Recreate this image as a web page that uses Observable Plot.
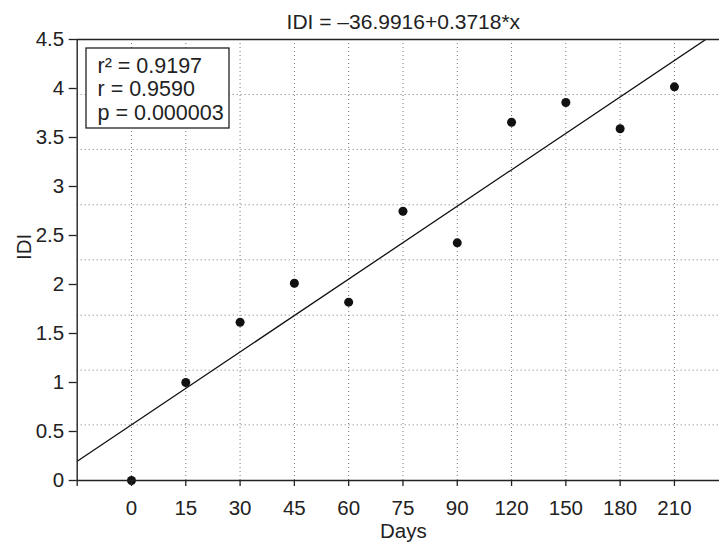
<!DOCTYPE html>
<html>
<head>
<meta charset="utf-8">
<script src="https://cdn.jsdelivr.net/npm/d3@7"></script>
<script src="https://cdn.jsdelivr.net/npm/@observablehq/plot@0.6"></script>
<style>
  html, body { margin: 0; padding: 0; background: #fff; }
  #chart { width: 719px; height: 543px; overflow: hidden; }
</style>
</head>
<body>
<div id="chart"></div>
<script>
// ---- data ----
const dayLabels = ["0", "15", "30", "45", "60", "75", "90", "120", "150", "180", "210"];
const idiValues = [0, 1.0, 1.615, 2.013, 1.82, 2.748, 2.425, 3.656, 3.857, 3.589, 4.017];
const yTicks = [0, 0.5, 1, 1.5, 2, 2.5, 3, 3.5, 4, 4.5];
const yGridValues = [0.568, 1.126, 1.687, 2.252, 2.813, 3.378, 3.939];
const fitIntercept = 0.568;   // fitted IDI at first category
const fitSlope = 0.3718;      // per category step
const titleText = "IDI = \u201336.9916+0.3718*x";
const statsLines = ["r\u00B2 = 0.9197", "r = 0.9590", "p = 0.000003"];
const xLabel = "Days";
const yLabel = "IDI";

// ---- derived tables ----
const idx = dayLabels.map((_, i) => i);
const points = idx.map(i => ({x: i, y: idiValues[i]}));
const xTickPositions = [-1, ...idx];
const xDomain = [-1, 10.83];
const fitLine = xDomain.map(x => ({x, y: fitIntercept + fitSlope * x}));

const ink = "#222";
const font = "'Liberation Sans', Arial, Helvetica, sans-serif";

const legendBox = () => {
  const r = document.createElementNS("http://www.w3.org/2000/svg", "rect");
  r.setAttribute("x", 86);
  r.setAttribute("y", 48);
  r.setAttribute("width", 143);
  r.setAttribute("height", 80);
  r.setAttribute("fill", "white");
  r.setAttribute("stroke", ink);
  r.setAttribute("stroke-width", 1.3);
  return r;
};

const chart = Plot.plot({
  width: 719,
  height: 543,
  marginLeft: 76.7,
  marginRight: 0,
  marginTop: 39,
  marginBottom: 63,
  style: {fontFamily: font, fontSize: "20px", color: ink, background: "white"},
  x: {domain: xDomain, axis: null},
  y: {domain: [0, 4.5], axis: null},
  marks: [
    // dotted grid
    Plot.ruleX(idx, {x: d => d, stroke: "#777", strokeWidth: 1, strokeDasharray: "1,3", y1: 0, y2: 4.47}),
    Plot.ruleY(yGridValues, {y: d => d, stroke: "#777", strokeWidth: 1, strokeDasharray: "1,3"}),
    // legend box (covers grid)
    legendBox,
    Plot.text([statsLines.join("\n")], {
      frameAnchor: "top-left", textAnchor: "start", lineAnchor: "top",
      dx: 20.3, dy: 16.5, fontSize: 21.5, lineHeight: 1.1, fill: ink
    }),
    // fit line
    Plot.line(fitLine, {x: "x", y: "y", stroke: "#111", strokeWidth: 1.3, clip: true}),
    // points
    Plot.dot(points, {x: "x", y: "y", r: 4.5, fill: "#111", stroke: "none"}),
    // axis frame lines
    Plot.ruleY([0], {stroke: ink, strokeWidth: 1.4}),
    Plot.ruleY([4.5], {stroke: ink, strokeWidth: 1.4}),
    Plot.ruleX([-1], {stroke: ink, strokeWidth: 1.4}),
    // axes
    Plot.axisX(xTickPositions, {
      anchor: "bottom", tickSize: 6, tickPadding: 14, fontSize: 20.5,
      tickFormat: i => (i < 0 ? "" : dayLabels[i]), label: null, stroke: ink, strokeWidth: 1.3
    }),
    Plot.axisY(yTicks, {
      anchor: "left", tickSize: 8, tickPadding: 5, fontSize: 20.5,
      tickFormat: d => String(d), label: null, stroke: ink, strokeWidth: 1.3
    }),
    // title and axis labels
    Plot.text([titleText], {frameAnchor: "top", dx: 5, dy: -17, lineAnchor: "middle", fontSize: 21, fill: ink}),
    Plot.text([xLabel], {frameAnchor: "bottom", dx: 5, dy: 51, lineAnchor: "middle", fontSize: 20.5, fill: ink}),
    Plot.text([yLabel], {frameAnchor: "left", dx: -53, rotate: -90, lineAnchor: "middle", fontSize: 20.5, fill: ink})
  ]
});

document.getElementById("chart").appendChild(chart);
</script>
</body>
</html>
